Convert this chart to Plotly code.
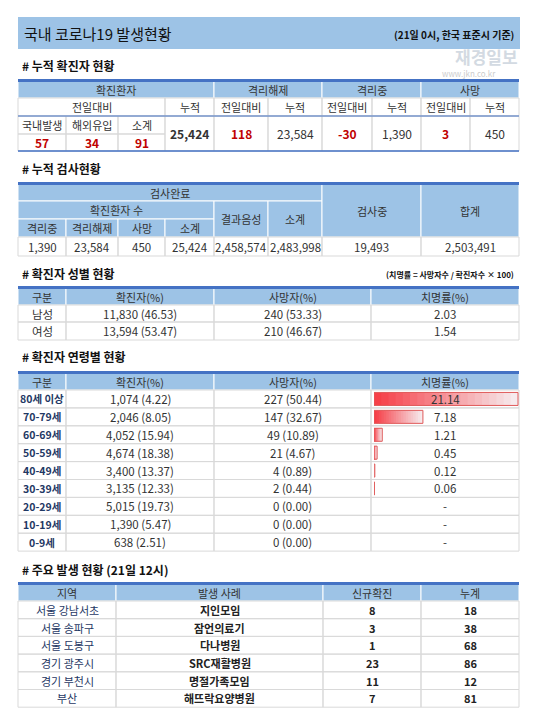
import plotly.graph_objects as go

# ---------------- data ----------------
t1_group = ["확진환자", "격리해제", "격리중", "사망"]
t1_sub = ["전일대비", "누적", "전일대비", "누적", "전일대비", "누적", "전일대비", "누적"]
t1_daily_labels = ["국내발생", "해외유입", "소계"]
t1_daily_values = ["57", "34", "91"]
t1_rest = ["25,424", "118", "23,584", "-30", "1,390", "3", "450"]

t2_sub = ["격리중", "격리해제", "사망", "소계"]
t2_values = ["1,390", "23,584", "450", "25,424", "2,458,574", "2,483,998", "19,493", "2,503,491"]

sex_header = ["구분", "확진자(%)", "사망자(%)", "치명률(%)"]
sex_rows = [["남성", "11,830 (46.53)", "240 (53.33)", "2.03"],
            ["여성", "13,594 (53.47)", "210 (46.67)", "1.54"]]

age_groups = ["80세 이상", "70-79세", "60-69세", "50-59세", "40-49세", "30-39세", "20-29세", "10-19세", "0-9세"]
age_cases = ["1,074 (4.22)", "2,046 (8.05)", "4,052 (15.94)", "4,674 (18.38)", "3,400 (13.37)",
             "3,135 (12.33)", "5,015 (19.73)", "1,390 (5.47)", "638 (2.51)"]
age_deaths = ["227 (50.44)", "147 (32.67)", "49 (10.89)", "21 (4.67)", "4 (0.89)", "2 (0.44)",
              "0 (0.00)", "0 (0.00)", "0 (0.00)"]
age_cfr = [21.14, 7.18, 1.21, 0.45, 0.12, 0.06, None, None, None]

out_header = ["지역", "발생 사례", "신규확진", "누계"]
out_region = ["서울 강남서초", "서울 송파구", "서울 도봉구", "경기 광주시", "경기 부천시", "부산"]
out_case = ["지인모임", "잠언의료기", "다나병원", "SRC재활병원", "명절가족모임", "해뜨락요양병원"]
out_new = [8, 3, 1, 23, 11, 7]
out_total = [18, 38, 68, 86, 12, 81]

# ---------------- style ----------------
W, H = 548, 710
FONT = "Noto Sans CJK KR"
HDR = "#9dc3e6"
BLUE = "#4472c4"
GRID = "#d9d9d9"
TXT = "#333333"
RED = "#c00000"
NAVY = "#1f3864"

shapes, ann = [], []

def cell(x0, x1, y0, y1, text="", fill=None, color=TXT, bold=False, size=11, line=GRID):
    shapes.append(dict(type="rect", x0=x0, x1=x1, y0=y0, y1=y1, xref="x", yref="y",
                       fillcolor=fill or "rgba(0,0,0,0)", line=dict(color=line, width=1), layer="below"))
    if text != "":
        t = f"<b>{text}</b>" if bold else text
        ann.append(dict(x=(x0 + x1) / 2, y=(y0 + y1) / 2, text=t, showarrow=False, xref="x", yref="y",
                        font=dict(family=FONT, size=size, color=color), xanchor="center", yanchor="middle"))

def hcell(x0, x1, y0, y1, text):
    cell(x0, x1, y0, y1, text, fill=HDR, line="white")

def hline(x0, x1, y, color=BLUE, width=3):
    shapes.append(dict(type="line", x0=x0, x1=x1, y0=y, y1=y, xref="x", yref="y",
                       line=dict(color=color, width=width)))

def label(x, y, text, size=12, bold=True, anchor="left", color="#111111"):
    t = f"<b>{text}</b>" if bold else text
    ann.append(dict(x=x, y=y, text=t, showarrow=False, xref="x", yref="y", xanchor=anchor, yanchor="middle",
                    font=dict(family=FONT, size=size, color=color)))

# Title bar
shapes.append(dict(type="rect", x0=10, x1=512, y0=9, y1=41, fillcolor=HDR, line=dict(width=0), layer="below"))
label(14, 25, "국내 코로나19 발생현황", size=15, bold=False, color="#111111")
label(508, 26, "(21일 0시, 한국 표준시 기준)", size=10, bold=True, anchor="right")
# watermark
label(512, 48, "재경일보", size=17, bold=True, anchor="right", color="#d3dae2")
label(490, 65, "www.jkn.co.kr", size=8, bold=False, anchor="right", color="#cccccc")

# ---- Table 1 ----
label(12, 57, "# 누적 확진자 현황")
c1 = [10, 58, 110, 157, 206, 260, 314, 364, 413, 462, 511]
r1 = [73, 90, 108, 126, 143]
grp_spans = [(0, 4), (4, 6), (6, 8), (8, 10)]
for g, (a, b) in zip(t1_group, grp_spans):
    hcell(c1[a], c1[b], r1[0], r1[1], g)
cell(c1[0], c1[3], r1[1], r1[2], t1_sub[0])
for i, s in enumerate(t1_sub[1:]):
    cell(c1[3 + i], c1[4 + i], r1[1], r1[2], s)
for i in range(3):
    cell(c1[i], c1[i + 1], r1[2], r1[3], t1_daily_labels[i])
    cell(c1[i], c1[i + 1], r1[3], r1[4], t1_daily_values[i], color=RED, bold=True, size=12)
for i, v in enumerate(t1_rest):
    red = v in ("118", "-30", "3")
    cell(c1[3 + i], c1[4 + i], r1[2], r1[4], v, color=RED if red else TXT, bold=red or i == 0, size=12)
hline(10, 511, 72.5)
hline(10, 511, 108, width=1)
hline(10, 511, 143, width=1.5)

# ---- Table 2 ----
label(12, 160, "# 누적 검사현황")
c2 = [10, 58, 110, 157, 206, 260, 314, 413, 511]
r2 = [176, 193, 211, 229, 248]
hcell(c2[0], c2[6], r2[0], r2[1], "검사완료")
hcell(c2[0], c2[4], r2[1], r2[2], "확진환자 수")
for i, s in enumerate(t2_sub):
    hcell(c2[i], c2[i + 1], r2[2], r2[3], s)
hcell(c2[4], c2[5], r2[1], r2[3], "결과음성")
hcell(c2[5], c2[6], r2[1], r2[3], "소계")
hcell(c2[6], c2[7], r2[0], r2[3], "검사중")
hcell(c2[7], c2[8], r2[0], r2[3], "합계")
for i, v in enumerate(t2_values):
    cell(c2[i], c2[i + 1], r2[3], r2[4], v, size=11.5)
hline(10, 511, 175.5)

# ---- Table 3 ----
label(12, 265, "# 확진자 성별 현황")
label(508, 266, "(치명률 = 사망자수 / 확진자수 × 100)", size=8, bold=True, anchor="right")
c3 = [10, 58, 206, 363, 511]
r3 = [280, 297, 314, 332]
for i, h in enumerate(sex_header):
    hcell(c3[i], c3[i + 1], r3[0], r3[1], h)
for j, row in enumerate(sex_rows):
    for i, v in enumerate(row):
        cell(c3[i], c3[i + 1], r3[j + 1], r3[j + 2], v, size=11.5)
hline(10, 511, 279.5)

# ---- Table 4 ----
label(12, 348, "# 확진자 연령별 현황")
r4_top, r4_hdr, rh = 365, 382, 17.9
for i, h in enumerate(sex_header):
    hcell(c3[i], c3[i + 1], r4_top, r4_hdr, h)
row_centers = []
for j, g in enumerate(age_groups):
    y0 = r4_hdr + j * rh
    y1 = y0 + rh
    row_centers.append((y0 + y1) / 2)
    cell(c3[0], c3[1], y0, y1, g, color=NAVY, bold=True, size=10.5)
    cell(c3[1], c3[2], y0, y1, age_cases[j], size=11.5)
    cell(c3[2], c3[3], y0, y1, age_deaths[j], size=11.5)
    cell(c3[3], c3[4], y0, y1, "")
hline(10, 511, 364.5)

# ---- Table 5 ----
label(12, 561, "# 주요 발생 현황 (21일 12시)")
c5 = [10, 108, 315, 413, 511]
r5_top, r5_hdr, rh5 = 576, 593, 17.7
for i, h in enumerate(out_header):
    hcell(c5[i], c5[i + 1], r5_top, r5_hdr, h)
for j in range(len(out_region)):
    y0 = r5_hdr + j * rh5
    y1 = y0 + rh5
    cell(c5[0], c5[1], y0, y1, out_region[j], color=NAVY, size=11)
    cell(c5[1], c5[2], y0, y1, out_case[j], color="#222222", bold=True, size=11)
    cell(c5[2], c5[3], y0, y1, str(out_new[j]), color="#222222", bold=True, size=11)
    cell(c5[3], c5[4], y0, y1, str(out_total[j]), color="#222222", bold=True, size=11)
hline(10, 511, 575.5)

fig = go.Figure()

# fatality data bars with gradient (segments), on their own x scale
bar_start, bar_full_px = 366, 144
cfr_max = max(v for v in age_cfr if v is not None)
xr2 = cfr_max * (W - bar_start) / bar_full_px
ys = [row_centers[j] for j, v in enumerate(age_cfr) if v is not None]
vals = [v for v in age_cfr if v is not None]
N = 20
for k in range(N):
    f = k / (N - 1)
    r_, g_, b_ = 246, int(64 + f * 170), int(72 + f * 165)
    fig.add_trace(go.Bar(y=ys, x=[v / N * 1.6 if k < N - 1 else v / N for v in vals],
                         base=[v * k / N for v in vals], orientation="h",
                         width=13, marker=dict(color=f"rgb({r_},{g_},{b_})", line=dict(width=0)),
                         xaxis="x2", yaxis="y", hoverinfo="skip", showlegend=False))
fig.add_trace(go.Bar(y=ys, x=vals, orientation="h", width=13,
                     marker=dict(color="rgba(0,0,0,0)", line=dict(color="#e05a5a", width=1)),
                     xaxis="x2", yaxis="y", hoverinfo="skip", showlegend=False))
for j, v in enumerate(age_cfr):
    txt = f"{v:.2f}" if v is not None else "-"
    ann.append(dict(x=(c3[3] + c3[4]) / 2, y=row_centers[j], text=txt, showarrow=False, xref="x", yref="y",
                    font=dict(family=FONT, size=11.5, color=TXT)))

fig.update_layout(
    width=W, height=H, margin=dict(l=0, r=0, t=0, b=0),
    paper_bgcolor="white", plot_bgcolor="rgba(0,0,0,0)", barmode="overlay",
    xaxis=dict(range=[0, W], visible=False, fixedrange=True),
    xaxis2=dict(range=[0, xr2], domain=[bar_start / W, 1], anchor="y", visible=False),
    yaxis=dict(range=[H, 0], visible=False),
    shapes=shapes, annotations=ann, showlegend=False,
)
fig.write_html("out.html")
